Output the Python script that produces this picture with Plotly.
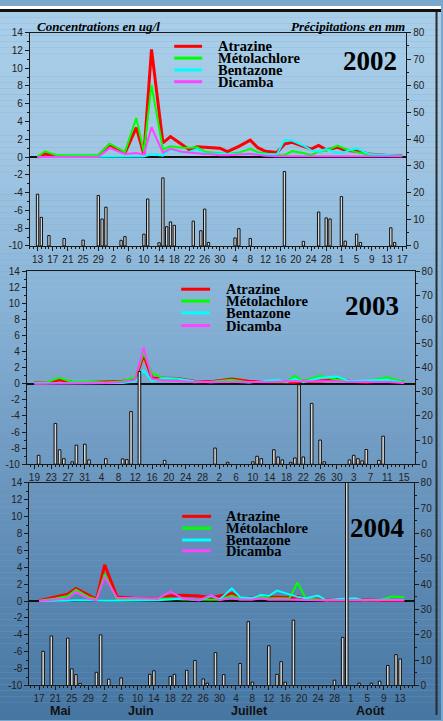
import plotly.graph_objects as go
from datetime import datetime, timedelta

LARGEUR, HAUTEUR = 443, 721
JOUR_MS = 86400000

SERIES = ["Atrazine", "Métolachlore", "Bentazone", "Dicamba"]
COULEURS = ["#ff0000", "#00ff00", "#00ffff", "#ff44ff"]
EPAISSEURS = [3, 2, 2, 2]

# ---------------- 2002 ----------------
TICKS_2002_DEBUT = "2002-05-13"
TICKS_2002 = ["13", "17", "21", "25", "29", "2", "6", "10", "14", "18", "22", "26", "30",
              "4", "8", "12", "16", "20", "24", "28", "1", "5", "9", "13", "17"]
PLUIE_DATES_2002 = ["05-13", "05-14", "05-16", "05-20", "05-25", "05-29", "05-30", "05-31",
                    "06-04", "06-05", "06-10", "06-11", "06-14", "06-15", "06-16", "06-17",
                    "06-18", "06-23", "06-25", "06-26", "06-27", "07-04", "07-05", "07-08",
                    "07-17", "07-22", "07-26", "07-28", "07-29", "08-01", "08-02", "08-05",
                    "08-06", "08-14", "08-15"]
PLUIE_MM_2002 = [19.4, 10.7, 3.9, 2.8, 2.2, 18.9, 10.1, 14.5,
                 2.1, 3.5, 4.4, 17.6, 1.2, 25.5, 7.2, 9.0,
                 7.7, 9.3, 5.7, 13.8, 1.3, 3.0, 6.5, 2.8,
                 27.9, 1.7, 12.7, 10.5, 10.1, 18.5, 1.8, 4.4,
                 1.3, 6.8, 1.3]
CONC_DATES_2002 = ["05-13", "05-15", "05-18", "05-22", "05-26", "05-29",
                   "06-01", "06-05", "06-08", "06-10", "06-12", "06-15", "06-17", "06-20",
                   "06-22", "06-24", "06-26", "06-28", "06-30",
                   "07-02", "07-05", "07-08", "07-10", "07-12", "07-15", "07-17", "07-19",
                   "07-22", "07-24", "07-26", "07-28", "07-31",
                   "08-02", "08-05", "08-07", "08-09", "08-13", "08-17"]
ATRAZINE_2002 = [0.0, 0.35, 0.1, 0.05, 0.05, 0.1,
                 1.4, 0.45, 3.3, 0.3, 12.1, 1.6, 2.3, 1.4, 0.8, 1.15, 1.1, 1.05, 1.0,
                 0.6, 1.2, 1.9, 1.05, 0.65, 0.5, 1.45, 1.65, 1.2, 0.9, 1.3, 0.8, 1.1,
                 0.75, 0.65, 0.45, 0.3, 0.18, 0.15]
METOLACHLORE_2002 = [0.05, 0.65, 0.2, 0.2, 0.25, 0.2,
                     1.5, 0.55, 4.4, 0.55, 8.1, 0.85, 1.2, 1.05, 1.05, 1.1, 0.6, 0.5, 0.45,
                     0.35, 0.5, 0.92, 0.55, 0.4, 0.2, 0.2, 0.66, 0.45, 0.2, 0.6, 0.74, 1.3,
                     0.92, 0.55, 0.35, 0.2, 0.18, 0.15]
BENTAZONE_2002 = [0.0, 0.0, 0.0, 0.0, 0.0, 0.0,
                  0.05, 0.05, 0.05, 0.05, 0.3, 0.15, 0.9, 0.5, 0.6, 0.9, 0.4, 0.4, 0.4,
                  0.35, 0.3, 0.3, 0.3, 0.3, 0.3, 1.9, 1.85, 1.3, 0.75, 0.6, 0.9, 0.45,
                  0.6, 1.0, 0.55, 0.3, 0.2, 0.15]
DICAMBA_2002 = [0.0, 0.0, 0.0, 0.0, 0.0, 0.02,
                1.0, 0.35, 0.45, 0.3, 3.35, 0.5, 0.95, 0.6, 0.5, 0.4, 0.35, 0.3, 0.2,
                0.2, 0.3, 0.37, 0.25, 0.15, 0.1, 0.1, 0.1, 0.1, 0.1, 0.1, 0.1, 0.1,
                0.1, 0.1, 0.1, 0.1, 0.1, 0.1]

# ---------------- 2003 ----------------
TICKS_2003_DEBUT = "2003-05-19"
TICKS_2003 = ["19", "23", "27", "31", "4", "8", "12", "16", "20", "24", "28", "2", "6",
              "10", "14", "18", "22", "26", "30", "3", "7", "11", "15"]
PLUIE_DATES_2003 = ["05-20", "05-24", "05-25", "05-26", "05-28", "05-29", "05-31",
                    "06-01", "06-05", "06-09", "06-10", "06-11", "06-13", "06-19",
                    "07-01", "07-04", "07-10", "07-11", "07-12", "07-15", "07-16", "07-17",
                    "07-19", "07-20", "07-21", "07-22", "07-24", "07-26", "07-27",
                    "08-02", "08-03", "08-04", "08-05", "08-06", "08-09", "08-10"]
PLUIE_MM_2003 = [3.7, 16.9, 6.0, 2.3, 1.0, 7.9, 8.3,
                 1.8, 2.3, 2.2, 1.9, 21.8, 38.4, 1.6,
                 6.7, 0.8, 1.0, 3.3, 2.3, 6.0, 3.0, 1.8,
                 0.8, 2.6, 32.9, 3.0, 25.2, 10.0, 1.0,
                 1.8, 3.7, 2.3, 1.4, 6.1, 1.6, 11.6]
CONC_DATES_2003 = ["05-19", "05-22", "05-25", "05-28", "06-01", "06-05", "06-09", "06-12",
                   "06-14", "06-16", "06-19", "06-22", "06-26", "06-30", "07-05", "07-09",
                   "07-13", "07-16", "07-18", "07-20", "07-22", "07-26", "07-30", "08-02",
                   "08-06", "08-11", "08-15"]
ATRAZINE_2003 = [0.1, 0.1, 0.5, 0.15, 0.15, 0.2, 0.3, 0.5, 3.6, 0.7, 0.7, 0.65, 0.3, 0.25,
                 0.6, 0.3, 0.25, 0.2, 0.2, 0.2, 0.3, 0.35, 0.5, 0.3, 0.2, 0.4, 0.2]
METOLACHLORE_2003 = [0.1, 0.2, 0.75, 0.2, 0.25, 0.15, 0.3, 0.8, 3.8, 1.3, 0.6, 0.4, 0.2, 0.25,
                     0.5, 0.2, 0.25, 0.3, 0.25, 1.0, 0.3, 1.0, 0.5, 0.3, 0.3, 0.8, 0.2]
BENTAZONE_2003 = [0.05, 0.05, 0.1, 0.1, 0.05, 0.05, 0.1, 0.3, 1.65, 0.3, 0.7, 0.65, 0.3, 0.2,
                  0.25, 0.15, 0.3, 0.5, 0.2, 0.6, 0.2, 0.75, 0.9, 0.3, 0.4, 0.5, 0.1]
DICAMBA_2003 = [0.0, 0.0, 0.0, 0.0, 0.05, 0.1, 0.2, 0.5, 4.5, 0.6, 0.4, 0.35, 0.2, 0.2,
                0.25, 0.2, 0.2, 0.3, 0.3, 0.3, 0.3, 0.35, 0.3, 0.2, 0.2, 0.2, 0.1]

# ---------------- 2004 ----------------
TICKS_2004_DEBUT = "2004-05-17"
TICKS_2004 = ["17", "21", "25", "29", "2", "6", "10", "14", "18", "22", "26", "30",
              "4", "8", "12", "16", "20", "24", "28", "1", "5", "9", "13"]
PLUIE_DATES_2004 = ["05-18", "05-20", "05-24", "05-25", "05-26", "05-27", "05-31",
                    "06-01", "06-03", "06-06", "06-13", "06-14", "06-18", "06-19", "06-22",
                    "06-24", "06-26", "06-27", "06-29", "07-01", "07-05", "07-07", "07-08",
                    "07-12", "07-14", "07-15", "07-16", "07-18", "07-28", "07-30", "07-31",
                    "08-03", "08-06", "08-08", "08-10", "08-12", "08-13"]
PLUIE_MM_2004 = [13.5, 19.6, 18.7, 6.6, 4.3, 0.8, 5.2,
                 20.0, 2.5, 3.0, 4.4, 5.8, 3.6, 4.4, 6.0,
                 9.9, 2.6, 0.9, 13.0, 4.3, 8.7, 25.2, 1.3,
                 15.7, 4.4, 9.4, 1.3, 25.8, 2.1, 19.0, 82.0,
                 0.9, 0.9, 1.7, 7.9, 12.2, 10.5]
CONC_DATES_2004 = ["05-17", "05-21", "05-24", "05-26", "05-29", "05-31",
                   "06-02", "06-05", "06-09", "06-12", "06-15", "06-18", "06-21", "06-25",
                   "06-28", "06-30",
                   "07-03", "07-05", "07-08", "07-10", "07-12", "07-14", "07-17", "07-19",
                   "07-21", "07-24", "07-26", "07-29",
                   "08-02", "08-04", "08-08", "08-11", "08-14"]
ATRAZINE_2004 = [0.05, 0.5, 0.8, 1.5, 0.7, 0.2,
                 4.3, 0.5, 0.35, 0.35, 0.3, 0.6, 0.7, 0.6, 0.4, 0.6,
                 0.9, 0.35, 0.35, 0.65, 0.45, 0.45, 0.4, 0.55, 0.3, 0.2, 0.1, 0.15,
                 0.1, 0.1, 0.1, 0.1, 0.1]
METOLACHLORE_2004 = [0.05, 0.3, 0.6, 1.35, 0.5, 0.2,
                     3.2, 0.2, 0.2, 0.2, 0.3, 0.3, 0.2, 0.2, 0.15, 0.15,
                     0.65, 0.25, 0.3, 0.55, 0.3, 0.35, 0.3, 2.2, 0.3, 0.15, 0.1, 0.1,
                     0.1, 0.1, 0.1, 0.55, 0.45]
BENTAZONE_2004 = [0.0, 0.0, 0.05, 0.1, 0.05, 0.0,
                  0.05, 0.05, 0.05, 0.05, 0.1, 0.2, 0.3, 0.1, 0.6, 0.2,
                  1.5, 0.45, 0.35, 0.75, 0.6, 1.25, 0.75, 0.5, 0.35, 0.65, 0.1, 0.25,
                  0.35, 0.1, 0.15, 0.15, 0.15]
DICAMBA_2004 = [0.0, 0.2, 0.3, 1.1, 0.3, 0.1,
                2.85, 0.4, 0.35, 0.35, 0.3, 1.15, 0.3, 0.1, 0.7, 0.1,
                0.4, 0.15, 0.15, 0.35, 0.15, 0.2, 0.15, 0.1, 0.1, 0.1, 0.1, 0.1,
                0.1, 0.1, 0.1, 0.1, 0.1]

MOIS = ["Mai", "Juin", "Juillet", "Août"]

CONC_TICKS = list(range(-10, 15, 2))
PLUIE_TICKS = list(range(0, 81, 10))

# Panel geometry in page pixels
PANNEAUX = [
    dict(annee="2002", box=(30, 408, 27, 244),
         xrange=["2002-05-10 23:30", "2002-08-18 01:00"],
         tick0=TICKS_2002_DEBUT, ticks=TICKS_2002,
         pluie=(PLUIE_DATES_2002, PLUIE_MM_2002),
         conc=(CONC_DATES_2002, [ATRAZINE_2002, METOLACHLORE_2002, BENTAZONE_2002, DICAMBA_2002]),
         leg=(175, 203, 217, [41, 53, 65, 77]), an=(371.5, 56)),
    dict(annee="2003", box=(27, 416.5, 269.5, 466),
         xrange=["2003-05-17 05:00", "2003-08-17 12:00"],
         tick0=TICKS_2003_DEBUT, ticks=TICKS_2003,
         pluie=(PLUIE_DATES_2003, PLUIE_MM_2003),
         conc=(CONC_DATES_2003, [ATRAZINE_2003, METOLACHLORE_2003, BENTAZONE_2003, DICAMBA_2003]),
         leg=(182, 211, 225, [288, 300, 312, 325]), an=(374, 305)),
    dict(annee="2004", box=(29.5, 415.5, 485, 691),
         xrange=["2004-05-14 15:30", "2004-08-16 07:00"],
         tick0=TICKS_2004_DEBUT, ticks=TICKS_2004,
         pluie=(PLUIE_DATES_2004, PLUIE_MM_2004),
         conc=(CONC_DATES_2004, [ATRAZINE_2004, METOLACHLORE_2004, BENTAZONE_2004, DICAMBA_2004]),
         leg=(183, 212, 225, [519, 531, 543, 554]), an=(379, 531)),
]


def px(x):
    return x / LARGEUR


def py(y):
    return 1 - y / HAUTEUR


def hex_rgb(h):
    return tuple(int(h[i:i + 2], 16) for i in (1, 3, 5))


FOND = [(0, "#aacfea"), (150, "#a0c6e3"), (300, "#89b4d7"), (420, "#759fc6"),
        (560, "#5f8cb6"), (721, "#4676a2")]


def fond_couleur(y):
    for (ya, ca), (yb, cb) in zip(FOND[:-1], FOND[1:]):
        if ya <= y <= yb:
            t = (y - ya) / (yb - ya)
            a, b = hex_rgb(ca), hex_rgb(cb)
            return "rgb(%d,%d,%d)" % tuple(round(a[k] + (b[k] - a[k]) * t) for k in range(3))
    return FOND[-1][1]


fig = go.Figure()
shapes, annotations = [], []

# vertical background gradient
BANDE = 6
for y0 in range(0, HAUTEUR, BANDE):
    shapes.append(dict(type="rect", xref="paper", yref="paper", layer="below",
                       x0=0, x1=1, y0=py(y0 + BANDE), y1=py(y0),
                       fillcolor=fond_couleur(y0 + BANDE / 2), line=dict(width=0)))
# top frame band and right edge
shapes.append(dict(type="rect", xref="paper", yref="paper", layer="above",
                   x0=0, x1=1, y0=py(3), y1=1, fillcolor="white", line=dict(width=0)))
shapes.append(dict(type="rect", xref="paper", yref="paper", layer="above",
                   x0=0, x1=1, y0=py(6), y1=py(3), fillcolor="#111111", line=dict(width=0)))
shapes.append(dict(type="line", xref="paper", yref="paper", layer="above",
                   x0=px(438.5), x1=px(438.5), y0=0, y1=py(6), line=dict(color="#2a2a2a", width=2)))

axe_style = dict(showline=True, linecolor="#1a1a1a", linewidth=1, ticks="outside",
                 tickcolor="#1a1a1a", ticklen=4, showgrid=False,
                 tickfont=dict(family="Arial, Liberation Sans", size=10, color="#222222"))

layout_axes = {}
for i, p in enumerate(PANNEAUX):
    n = i + 1
    xa = "xaxis" if n == 1 else f"xaxis{n}"
    xr = "x" if n == 1 else f"x{n}"
    yc_id = 2 * n - 1
    yp_id = 2 * n
    yca = "yaxis" if yc_id == 1 else f"yaxis{yc_id}"
    ycr = "y" if yc_id == 1 else f"y{yc_id}"
    ypa = f"yaxis{yp_id}"
    ypr = f"y{yp_id}"
    x0, x1, y0, y1 = p["box"]

    debut = datetime.strptime(p["tick0"], "%Y-%m-%d")
    tickvals = [(debut + timedelta(days=4 * k)).strftime("%Y-%m-%d") for k in range(len(p["ticks"]))]

    layout_axes[xa] = dict(axe_style, type="date", domain=[px(x0), px(x1)], range=p["xrange"],
                           anchor=ycr, mirror=True, tickmode="array", tickvals=tickvals,
                           ticktext=p["ticks"],
                           minor=dict(ticks="outside", ticklen=2, tickcolor="#1a1a1a",
                                      dtick=JOUR_MS, tick0=p["tick0"]))
    layout_axes[yca] = dict(axe_style, domain=[py(y1), py(y0)], range=[-10, 14], anchor=xr,
                            tickmode="array", tickvals=CONC_TICKS,
                            ticktext=[str(v) for v in CONC_TICKS],
                            zeroline=True, zerolinecolor="#111111", zerolinewidth=2,
                            minor=dict(ticks="outside", ticklen=2, tickcolor="#1a1a1a", dtick=1))
    layout_axes[ypa] = dict(axe_style, range=[0, 80], anchor=xr, overlaying=ycr, side="right",
                            tickmode="array", tickvals=PLUIE_TICKS,
                            ticktext=[str(v) for v in PLUIE_TICKS], zeroline=False,
                            minor=dict(ticks="outside", ticklen=2, tickcolor="#1a1a1a", dtick=5))

    an = p["annee"]
    conc_dates, conc_vals = p["conc"]
    xs = [f"{an}-{d}" for d in conc_dates]
    for nom, vals, coul, ep in zip(SERIES, conc_vals, COULEURS, EPAISSEURS):
        fig.add_trace(go.Scatter(x=xs, y=vals, mode="lines", name=nom,
                                 line=dict(color=coul, width=ep),
                                 xaxis=xr, yaxis=ycr, showlegend=False, hoverinfo="skip"))

    pd_dates, pd_vals = p["pluie"]
    fig.add_trace(go.Bar(x=[f"{an}-{d}" for d in pd_dates], y=pd_vals,
                         width=[0.62 * JOUR_MS] * len(pd_vals),
                         marker=dict(color="#d6d6d6", line=dict(color="#111111", width=1)),
                         xaxis=xr, yaxis=ypr, showlegend=False, hoverinfo="skip"))

    # legend drawn as line samples and labels
    lx0, lx1, tx, rows = p["leg"]
    for nom, coul, ry in zip(SERIES, COULEURS, rows):
        shapes.append(dict(type="line", xref="paper", yref="paper", layer="above",
                           x0=px(lx0), x1=px(lx1), y0=py(ry), y1=py(ry),
                           line=dict(color=coul, width=3)))
        annotations.append(dict(text=f"<b>{nom}</b>", xref="paper", yref="paper",
                                x=px(tx), y=py(ry), xanchor="left", yanchor="middle",
                                showarrow=False,
                                font=dict(family="Times New Roman, Liberation Serif",
                                          size=14.5, color="black")))
    ax, ay = p["an"]
    annotations.append(dict(text=f"<b>{an}</b>", xref="paper", yref="paper",
                            x=px(ax), y=py(ay), xanchor="center", yanchor="middle",
                            showarrow=False,
                            font=dict(family="Times New Roman, Liberation Serif",
                                      size=27, color="black")))

# axis titles on the first panel
titre_font = dict(family="Times New Roman, Liberation Serif", size=13, color="black")
annotations.append(dict(text="<b><i>Concentrations en ug/l</i></b>", xref="paper", yref="paper",
                        x=px(35), y=py(21), xanchor="left", yanchor="middle",
                        showarrow=False, font=titre_font))
annotations.append(dict(text="<b><i>Précipitations en mm</i></b>", xref="paper", yref="paper",
                        x=px(409), y=py(21), xanchor="right", yanchor="middle",
                        showarrow=False, font=titre_font))

# month names under the last panel
for nom, cx in zip(MOIS, [61, 142, 250.5, 372.5]):
    annotations.append(dict(text=f"<b>{nom}</b>", xref="paper", yref="paper",
                            x=px(cx), y=py(716.5), xanchor="center", yanchor="middle",
                            showarrow=False, borderpad=0,
                            font=dict(family="Arial, Liberation Sans", size=12.5, color="#111111")))

fig.update_layout(width=LARGEUR, height=HAUTEUR, margin=dict(l=0, r=0, t=0, b=0, pad=0),
                  paper_bgcolor="#7aa7cc", plot_bgcolor="rgba(0,0,0,0)",
                  shapes=shapes, annotations=annotations, showlegend=False,
                  barmode="overlay", **layout_axes)

fig.write_html("out.html", config={"displayModeBar": False})
